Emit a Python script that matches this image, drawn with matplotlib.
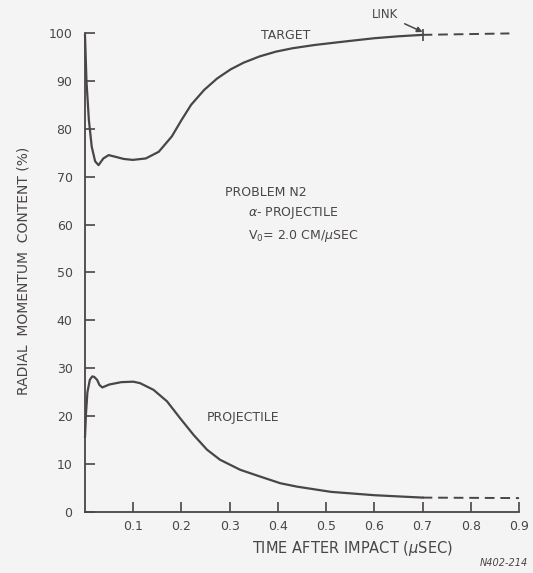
import matplotlib.pyplot as plt
import numpy as np

target_t = [0.0, 0.003, 0.008, 0.014, 0.021, 0.028, 0.038, 0.049, 0.065, 0.08, 0.099,
            0.126, 0.153, 0.18, 0.2, 0.22, 0.247, 0.274, 0.302, 0.329, 0.362,
            0.396, 0.43, 0.477, 0.546, 0.6, 0.65, 0.7]
target_v = [99.5, 90.0, 81.8, 76.2, 73.2, 72.4, 73.8, 74.5, 74.1, 73.7, 73.5,
            73.8, 75.2, 78.4, 81.8, 85.0, 88.1, 90.5, 92.4, 93.8, 95.1,
            96.1, 96.8, 97.5, 98.3, 98.9, 99.3, 99.6]
target_link_t = [0.7, 0.88]
target_link_v = [99.6, 99.9]

proj_t = [0.0, 0.002, 0.005, 0.01, 0.015, 0.019, 0.025, 0.03, 0.036, 0.05, 0.075,
          0.1, 0.114, 0.142, 0.17, 0.197, 0.225, 0.253, 0.28, 0.322, 0.363,
          0.405, 0.439, 0.51, 0.6, 0.7]
proj_v = [15.7, 20.5, 25.0, 27.6, 28.3, 28.2, 27.6, 26.5, 26.0, 26.6, 27.1,
          27.2, 26.9, 25.5, 23.1, 19.6, 16.1, 13.0, 10.9, 8.8, 7.4,
          6.0, 5.3, 4.2, 3.5, 3.0]
proj_link_t = [0.7, 0.9]
proj_link_v = [3.0, 2.9]

x_ticks = [0.1, 0.2, 0.3, 0.4, 0.5, 0.6, 0.7, 0.8, 0.9]
x_tick_labels = ["0.1", "0.2", "0.3", "0.4", "0.5", "0.6", "0.7", "0.8", "0.9"]
y_ticks = [0, 10, 20, 30, 40, 50, 60, 70, 80, 90, 100]

ink = "#4a4547"
bg = "#f4f4f4"
plt.rcParams["font.family"] = ["DejaVu Sans"]

fig = plt.figure(figsize=(5.33, 5.73), dpi=100, facecolor=bg)
ax = fig.add_axes([0.1595, 0.1065, 0.8143, 0.836])
ax.set_facecolor(bg)

# Solid curves and dashed link extensions
ax.plot(target_t, target_v, color=ink, lw=1.6, clip_on=False)
ax.plot(target_link_t, target_link_v, color=ink, lw=1.4, ls=(0, (5, 3)), clip_on=False)
ax.plot(proj_t, proj_v, color=ink, lw=1.6, clip_on=False)
ax.plot(proj_link_t, proj_link_v, color=ink, lw=1.4, ls=(0, (5, 3)), clip_on=False)
ax.plot([target_t[-1]], [target_v[-1]], marker="|", ms=8, mew=1.2, color=ink, clip_on=False)

ax.set_xlim(0, 0.9)
ax.set_ylim(0, 100)

# Spines: only left and bottom
for side in ["top", "right"]:
    ax.spines[side].set_visible(False)
for side in ["left", "bottom"]:
    ax.spines[side].set_color(ink)
    ax.spines[side].set_linewidth(1.3)

ax.set_xticks(x_ticks)
ax.set_xticklabels(x_tick_labels)
ax.set_yticks(y_ticks)
ax.tick_params(axis="both", direction="in", length=7, width=1.2, color=ink,
               labelcolor=ink, labelsize=9)
ax.tick_params(axis="x", pad=6)
ax.tick_params(axis="y", pad=9)

# Annotations
ax.text(0.417, 99.4, "TARGET", color=ink, fontsize=9, ha="center", va="center")
ax.annotate("LINK", xy=(0.7, 100.2), xytext=(0.622, 103.8), color=ink, fontsize=8.5,
            ha="center", va="center", annotation_clip=False,
            arrowprops=dict(arrowstyle="-|>", color=ink, lw=1.1, shrinkA=3, shrinkB=0,
                            mutation_scale=8))
ax.text(0.29, 66.6, "PROBLEM N2", color=ink, fontsize=9, ha="left", va="center")
ax.text(0.338, 62.4, r"$\alpha$- PROJECTILE", color=ink, fontsize=9, ha="left", va="center")
ax.text(0.338, 57.6, r"V$_0$= 2.0 CM/$\mu$SEC", color=ink, fontsize=9, ha="left", va="center")
ax.text(0.253, 19.8, "PROJECTILE", color=ink, fontsize=9, ha="left", va="center")

fig.text(0.045, 0.527, "RADIAL  MOMENTUM  CONTENT (%)", color=ink, fontsize=10,
         rotation=90, ha="center", va="center")
fig.text(0.662, 0.042, r"TIME AFTER IMPACT ($\mu$SEC)", color=ink, fontsize=10.5,
         ha="center", va="center")
fig.text(0.99, 0.017, "N402-214", color=ink, fontsize=7, style="italic",
         ha="right", va="center")

fig.savefig("out.png", dpi=100, facecolor=bg)
